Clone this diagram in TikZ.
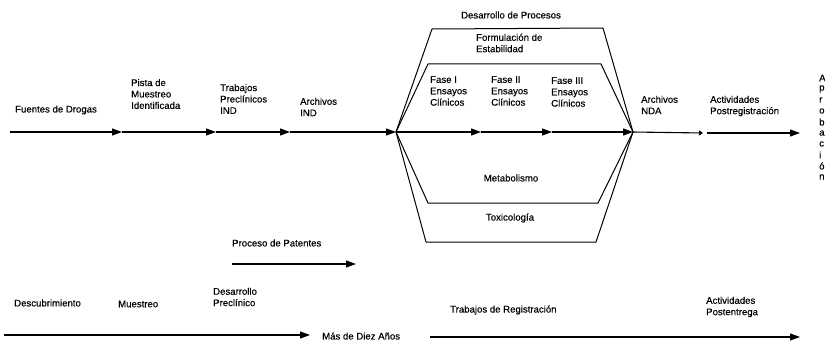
\documentclass[tikz,border=0pt]{standalone}
\usepackage{fontspec}
\setmainfont{Liberation Sans}
\newfontfamily\labelfont{Liberation Sans}[FakeBold=0.3]
\usetikzlibrary{arrows.meta}
\begin{document}
\begin{tikzpicture}[x=1pt,y=-1pt,
  lbl/.style={inner sep=0pt,anchor=west,align=left,font=\labelfont\fontsize{9.6}{11.4}\selectfont},
  lblc/.style={lbl,anchor=center,align=center},
  flow/.style={line width=1.1pt,-{Triangle[length=10pt,width=7pt]}},
  tinyflow/.style={line width=1.1pt,-{Triangle[length=4pt,width=5pt]}},
  hexline/.style={line width=1pt,line join=round}]
\useasboundingbox (0,0) rectangle (825,345);

% main pipeline
\coordinate (s0) at (10,132);
\coordinate (t1) at (122,132);
\coordinate (t2) at (216,132);
\coordinate (t3) at (290,132);
\coordinate (L)  at (396,132);
\coordinate (p1) at (481,132);
\coordinate (p2) at (552,132);
\coordinate (R)  at (633,132);
\coordinate (n1) at (703,133);
\coordinate (n2) at (707,133);
\coordinate (n3) at (800,133);

\draw[flow] (s0) -- (t1);
\draw[flow] (t1) -- (t2);
\draw[flow] (t2) -- (t3);
\draw[flow] (t3) -- (L);
\draw[flow] (L) -- (p1);
\draw[flow] (p1) -- (p2);
\draw[flow] (p2) -- (R);
\draw[tinyflow] (R) -- (n1);
\draw[flow] (n2) -- (n3);

% outer and inner hexagons
\coordinate (oTL) at (432,29);
\coordinate (oTR) at (603,28);
\coordinate (oBR) at (596,242);
\coordinate (oBL) at (426,242);
\coordinate (iTL) at (428,64);
\coordinate (iTR) at (601,64);
\coordinate (iBR) at (598,203);
\coordinate (iBL) at (428,203);
\draw[hexline] (L) -- (oTL) -- (oTR) -- (R) -- (oBR) -- (oBL) -- cycle;
\draw[hexline] (L) -- (iTL) -- (iTR) -- (R) -- (iBR) -- (iBL) -- cycle;

% upper labels
\node[lbl] (fd) at (15,110) {Fuentes de Drogas};
\node[lbl] (pm) at (131,94) {Pista de\\Muestreo\\Identificada};
\node[lbl] (tp) at (220,99) {Trabajos\\Preclínicos\\IND};
\node[lbl] (ai) at (300,107) {Archivos\\IND};
\node[lblc] (dp) at (511,15) {Desarrollo de Procesos};
\node[lbl] (fe) at (476,43) {Formulación de\\Estabilidad};
\node[lbl] (f1) at (430,91) {Fase I\\Ensayos\\Clínicos};
\node[lbl] (f2) at (491,91) {Fase II\\Ensayos\\Clínicos};
\node[lbl] (f3) at (551,92) {Fase III\\Ensayos\\Clínicos};
\node[lblc] (me) at (511,178) {Metabolismo};
\node[lblc] (tx) at (510,218) {Toxicología};
\node[lbl] (an) at (641,105) {Archivos\\NDA};
\node[lbl] (ap) at (710,106) {Actividades\\Postregistración};

% vertical word at the right edge
\foreach \ch [count=\i from 0] in {A,p,r,o,b,a,c,i,ó,n}
  \node[lbl] (ap\i) at (819,78+11*\i) {\ch};

% patents
\node[lbl] (pp) at (232,243) {Proceso de Patentes};
\coordinate (pa0) at (232,264);
\coordinate (pa1) at (356,264);
\draw[flow] (pa0) -- (pa1);

% bottom timeline
\node[lbl] (de) at (14,303) {Descubrimiento};
\node[lbl] (mu) at (118,304) {Muestreo};
\node[lbl] (dpc) at (213,297) {Desarrollo\\Preclínico};
\node[lbl] (md) at (322,336) {Más de Diez Años};
\node[lbl] (tr) at (450,310) {Trabajos de Registración};
\node[lbl] (ape) at (706,307) {Actividades\\Postentrega};
\coordinate (b0) at (4,335);
\coordinate (b1) at (310,335);
\coordinate (b2) at (430,337);
\coordinate (b3) at (800,337);
\draw[flow] (b0) -- (b1);
\draw[flow] (b2) -- (b3);
\end{tikzpicture}
\end{document}
